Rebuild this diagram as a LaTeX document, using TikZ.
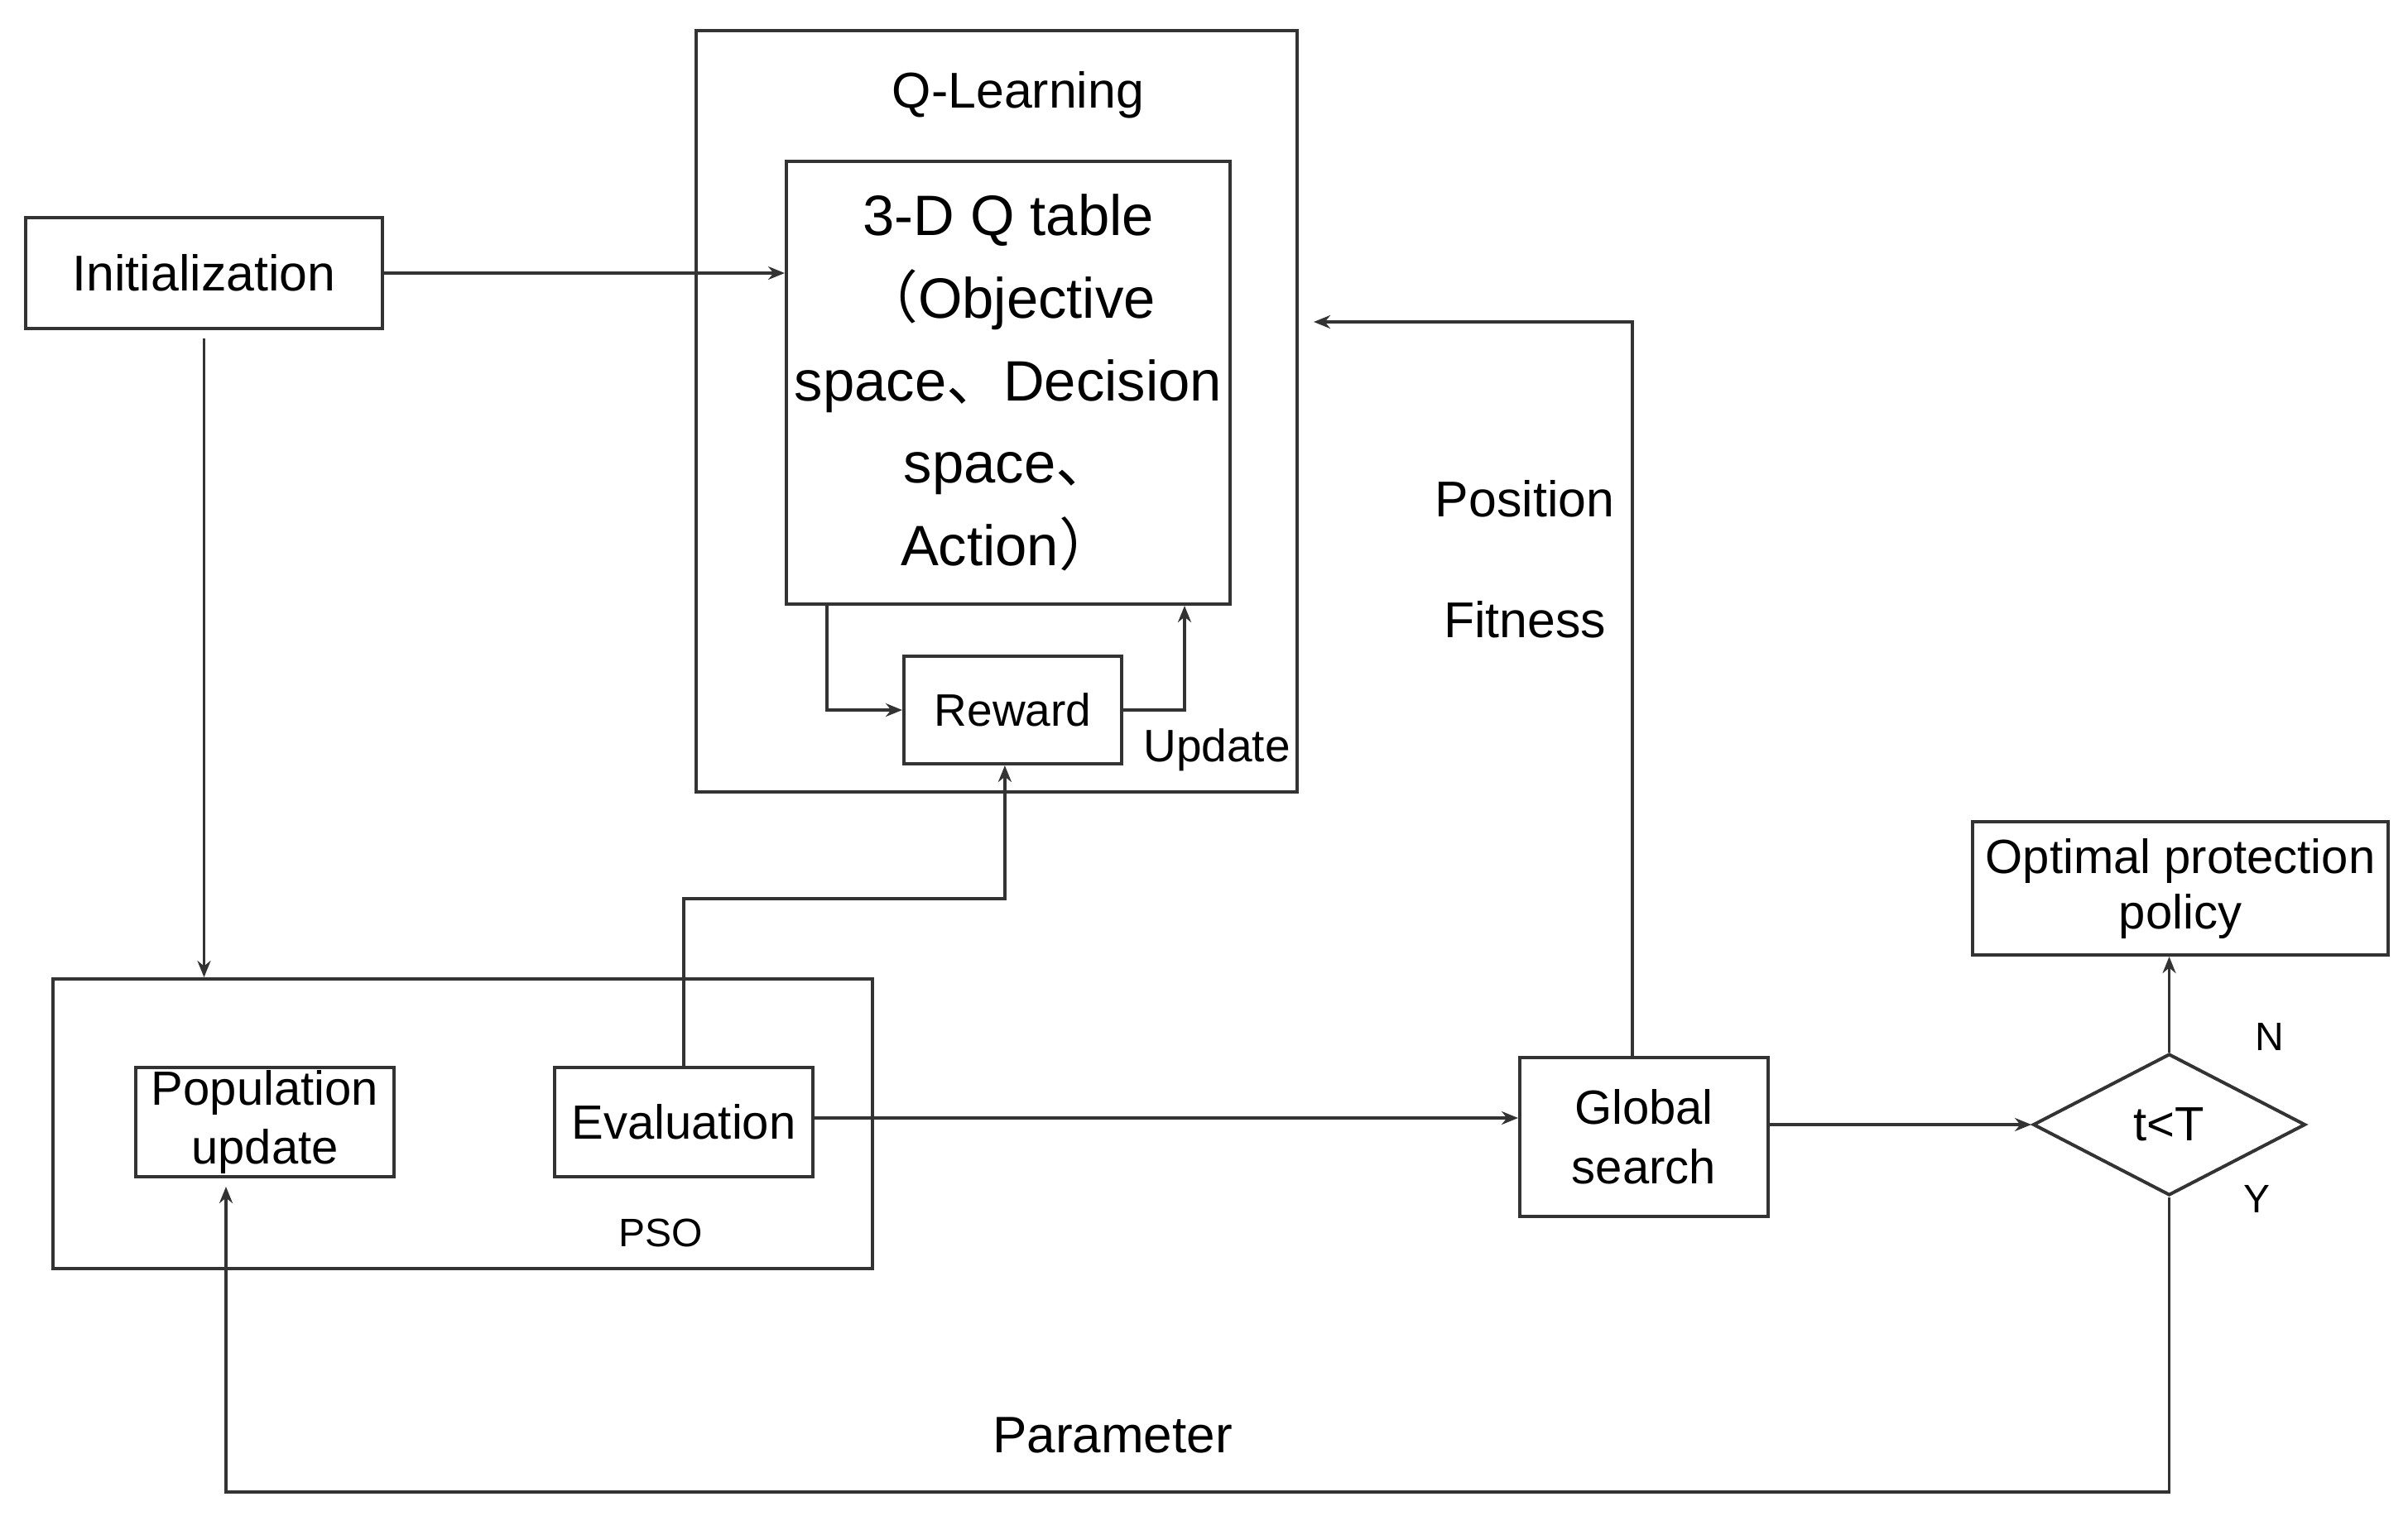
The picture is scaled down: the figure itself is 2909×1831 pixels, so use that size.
\documentclass[tikz,border=0pt]{standalone}
\usepackage{fontspec}
\setmainfont{Liberation Sans}
\newfontfamily\cjk{Noto Sans CJK SC}
\usetikzlibrary{arrows.meta,shapes.geometric,calc}
\begin{document}
\begin{tikzpicture}[x=0.25pt,y=-0.25pt,
  box/.style={draw=black!80, line width=1pt, rectangle, inner sep=0pt, align=center},
  arr/.style={draw=black!80, line width=0.9pt, -{Stealth[length=5pt,width=4pt]}},
  fa/.style={font=\fontsize{15.2pt}{18pt}\selectfont},
  fb/.style={font=\fontsize{14.5pt}{17.75pt}\selectfont},
  fr/.style={font=\fontsize{13.75pt}{16pt}\selectfont},
  fs/.style={font=\fontsize{12pt}{14pt}\selectfont}
]
\path[use as bounding box, fill=white] (0,0) rectangle (2909,1831);

% Q-learning block
\node[box, minimum width=181.5pt, minimum height=230pt] (qlbox) at (1204,497) {};
\node[fa] (qltitle) at (1230,115) {Q-Learning};
\node[box, minimum width=134pt, minimum height=133.75pt, font=\fontsize{17.2pt}{24.9pt}\selectfont] (qtable) at (1218,462.5)
  {3-D Q table\\{\cjk （}Objective\\space{\cjk 、}Decision\\space{\cjk 、}\\Action{\cjk ）}};
\node[box, minimum width=65.75pt, minimum height=32.5pt, fr] (reward) at (1223.5,858) {Reward};
\node[fr] (updlbl) at (1470,906) {Update};

% initialization
\node[box, minimum width=107.75pt, minimum height=33.5pt, fa] (init) at (246.5,330) {Initialization};

% PSO block
\node[box, minimum width=247.5pt, minimum height=87.5pt] (pso) at (559,1358) {};
\node[fs] (psolbl) at (798,1490) {PSO};
\node[box, minimum width=78pt, minimum height=33pt, fb] (pop) at (320,1356) {Population\\update};
\node[box, minimum width=78pt, minimum height=33pt, fb] (eval) at (826,1356) {Evaluation};

% right part
\node[box, minimum width=75pt, minimum height=48pt, font=\fontsize{14.5pt}{18pt}\selectfont] (global) at (1986,1374) {Global\\search};
\node[draw=black!80, line width=1pt, diamond, inner sep=0pt, minimum width=82.25pt, minimum height=42.75pt, fb] (dec) at (2620.5,1359) {t<T};
\node[box, minimum width=125.5pt, minimum height=40.25pt, font=\fontsize{14.5pt}{16.75pt}\selectfont] (opt) at (2634,1073.5) {Optimal protection\\policy};
\node[fs] (nlbl) at (2742,1253) {N};
\node[fs] (ylbl) at (2726,1449) {Y};
\node[fa] (poslbl) at (1842,603) {Position};
\node[fa] (fitlbl) at (1842,749) {Fitness};
\node[font=\fontsize{15.5pt}{18pt}\selectfont] (parlbl) at (1344,1734) {Parameter};

% connectors
\draw[arr] (init.east) -- (init.east -| qtable.west);
\draw[arr, shorten <=2.5pt] (init.south) -- (init.south |- pso.north);
\draw[arr] ([xshift=12.75pt]qtable.south west) |- (reward.west);
\draw[arr] (reward.east) -| ([xshift=-14.25pt]qtable.south east);
\coordinate (bendy) at (0,1086);
\coordinate (rin) at ([xshift=-2.4pt]reward.south);
\draw[arr] (eval.north) |- (rin |- bendy) -- (rin);
\coordinate (eout) at ([yshift=1.25pt]eval.east);
\draw[arr] (eout) -- (eout -| global.west);
\coordinate (fbk) at (1972,389);
\draw[arr, shorten >=4.5pt] (global.north -| fbk) -- (fbk) -- (fbk -| qlbox.east);
\draw[arr] (global.east |- dec.west) -- (dec.west);
\draw[arr] (dec.north) -- (dec.north |- opt.south);
\coordinate (loopy) at (0,1803);
\coordinate (pin) at ([xshift=-11.75pt]pop.south);
\draw[arr, shorten >=2.5pt] (dec.south) -- (dec.south |- loopy) -| (pin);
\end{tikzpicture}
\end{document}
